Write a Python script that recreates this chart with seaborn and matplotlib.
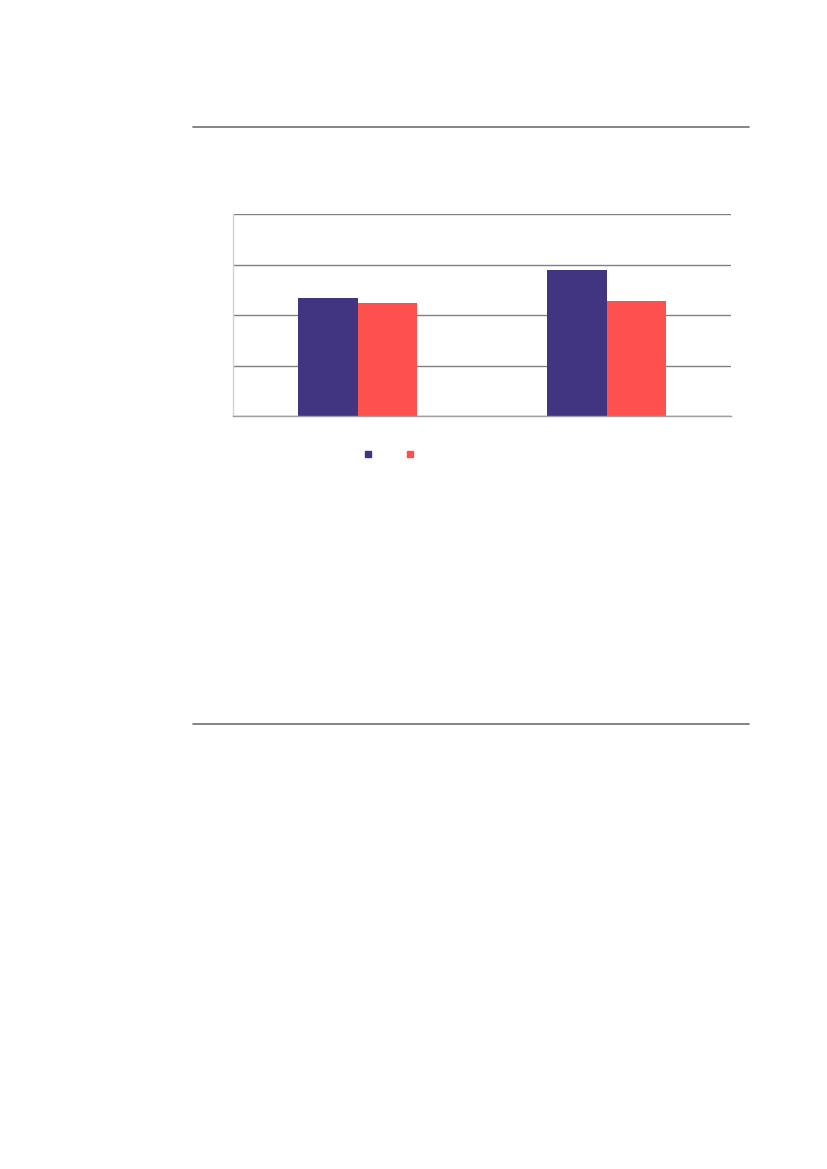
import matplotlib
matplotlib.use('Agg')
import matplotlib.pyplot as plt
from matplotlib.lines import Line2D
import pandas as pd
import seaborn as sns

categories = ['Groupe 1', 'Groupe 2']
series = ['Série 1', 'Série 2']
values_s1 = [2.34, 2.89]
values_s2 = [2.24, 2.28]
y_ticks = [0, 1, 2, 3, 4]

colors = ['#413582', '#FF5050']

df = pd.DataFrame({
    'categorie': categories * 2,
    'serie': [series[0]] * 2 + [series[1]] * 2,
    'valeur': values_s1 + values_s2,
})

sns.set_style('white')
fig = plt.figure(figsize=(8.27, 11.69), dpi=100)
ax = fig.add_axes([233 / 827, 1 - 416 / 1169, 498 / 827, 202 / 1169])

sns.barplot(data=df, x='categorie', y='valeur', hue='serie', palette=colors,
            width=0.48, saturation=1, linewidth=0, ax=ax, legend=False)

ax.set_ylim(y_ticks[0], y_ticks[-1])
ax.set_yticks(y_ticks)
ax.set_xlim(-0.5, 1.5)
ax.yaxis.grid(True, color='#808080', linewidth=1)
ax.set_axisbelow(True)
ax.tick_params(left=False, bottom=False, labelleft=False, labelbottom=False)
ax.set_xlabel('')
ax.set_ylabel('')
for s in ['top', 'right']:
    ax.spines[s].set_visible(False)
ax.spines['left'].set_color('#d4d4d4')
ax.spines['left'].set_linewidth(1)
ax.spines['bottom'].set_color('#a0a0a0')
ax.spines['bottom'].set_linewidth(1)

handles = [Line2D([], [], marker='s', linestyle='', markersize=4.5,
                  markerfacecolor=c, markeredgecolor=c) for c in colors]
fig.legend(handles, ['', ''], ncol=2, frameon=False, loc='center',
           bbox_to_anchor=(389 / 827, 1 - 455 / 1169),
           handlelength=1, handletextpad=0, columnspacing=2.02)

for y in [127, 724]:
    fig.add_artist(Line2D([193 / 827, 749 / 827], [1 - y / 1169, 1 - y / 1169],
                          color='#707070', linewidth=1.2))

fig.savefig('out.png', dpi=100)
